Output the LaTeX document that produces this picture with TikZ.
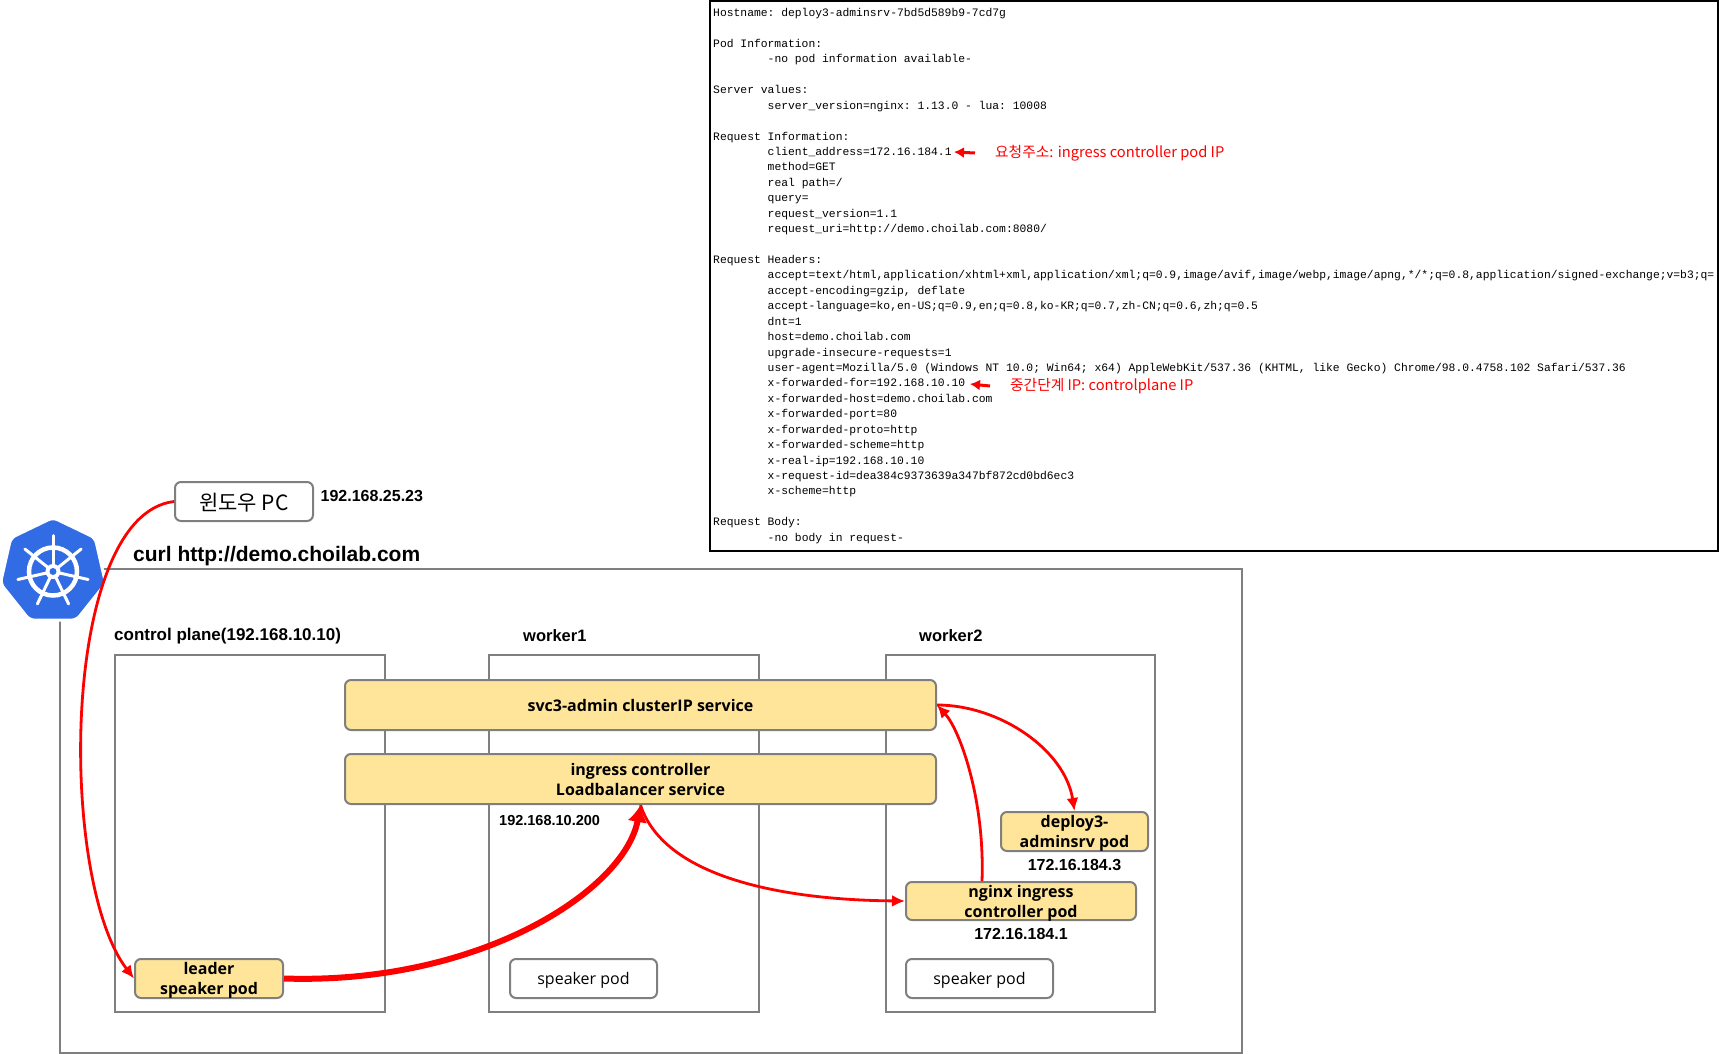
\documentclass[tikz,border=0pt]{standalone}
\usepackage{fontspec}
\setmainfont{Liberation Sans}
\setmonofont{Liberation Mono}
\newfontfamily\boxfont{Open Sans}
\newfontfamily\krfont{Noto Sans CJK KR}
\usepackage{xcolor}
\usetikzlibrary{shapes.geometric, arrows.meta, positioning, calc}

\definecolor{podyellow}{HTML}{FFE599}
\definecolor{linegray}{HTML}{7F7F7F}
\definecolor{k8sblue}{HTML}{326CE5}
\newcommand{\logindent}{\hspace*{54.5pt}}

\begin{document}
\begin{tikzpicture}[
    x=1pt,
    y=-1pt,
    zone/.style={
        rectangle,
        draw=linegray,
        line width=2pt,
        inner sep=0pt
    },
    pod/.style={
        rectangle,
        draw=linegray,
        fill=podyellow,
        line width=2pt,
        rounded corners=6pt,
        inner sep=0pt,
        align=center,
        text=black,
        font={\boxfont\bfseries\fontsize{16}{20}\selectfont}
    },
    smallpod/.style={
        pod,
        text depth=0pt
    },
    plainpod/.style={
        rectangle,
        draw=linegray,
        fill=white,
        line width=2pt,
        rounded corners=6pt,
        inner sep=0pt,
        align=center,
        minimum width=147pt,
        minimum height=39pt,
        text depth=0pt,
        font={\boxfont\fontsize{16}{20}\selectfont}
    },
    tag/.style={
        inner sep=0pt,
        font={\bfseries\fontsize{16}{20}\selectfont}
    },
    note/.style={
        inner sep=0pt,
        text=red,
        anchor=west,
        font={\krfont\fontsize{14.7}{18}\selectfont}
    },
    flow/.style={-{Latex[length=13pt,width=12pt]}, red, line width=2.8pt},
    noteflow/.style={-{Latex[length=10pt,width=11pt]}, red, line width=3pt}
]
    \useasboundingbox (0,0) rectangle (1719,1054);

    % cluster frame and the three machines
    \node [zone, minimum width=1182pt, minimum height=484pt] (cluster) at (650.75,811) {};
    \node [zone, minimum width=270pt, minimum height=357pt] (cplane) at (250,833.5) {};
    \node [zone, minimum width=270pt, minimum height=357pt] (worker1) at (624,833.5) {};
    \node [zone, minimum width=269pt, minimum height=357pt] (worker2) at (1020.5,833.5) {};

    \node [tag, font={\bfseries\fontsize{17}{20}\selectfont}, anchor=west] (cplanelabel) at (114,636) {control plane(192.168.10.10)};
    \node [tag, font={\bfseries\fontsize{16.5}{20}\selectfont}, anchor=west] (worker1label) at (523,636) {worker1};
    \node [tag, font={\bfseries\fontsize{16.5}{20}\selectfont}, anchor=west] (worker2label) at (919,636) {worker2};

    % Kubernetes logo over the frame corner
    \node [regular polygon, regular polygon sides=7, draw=white, fill=k8sblue, line width=3pt,
        rounded corners=5pt, minimum size=108pt, inner sep=0pt] (k8s) at (53,571.5) {};
    \draw [white, line width=4.5pt] (k8s.center) circle (24);
    \foreach \k in {0,...,6}
        \draw [white, line width=3pt, line cap=round] (k8s.center) -- ++({270+\k*360/7}:36);
    \node [circle, fill=white, minimum size=15pt, inner sep=0pt] (hubring) at (k8s.center) {};
    \node [circle, fill=k8sblue, minimum size=7pt, inner sep=0pt] (hub) at (k8s.center) {};

    % services and pods
    \node [pod, minimum width=591pt, minimum height=50pt] (svc) at (640.5,705) {svc3-admin clusterIP service};
    \node [pod, minimum width=591pt, minimum height=50pt] (ingress) at (640.5,779) {ingress controller\\Loadbalancer service};
    \node [smallpod, minimum width=147pt, minimum height=39pt] (deploy) at (1074.5,831.5) {deploy3-\\adminsrv pod};
    \node [smallpod, minimum width=230pt, minimum height=38pt] (nginx) at (1021,901) {nginx ingress\\controller pod};
    \node [smallpod, minimum width=148pt, minimum height=39pt] (leader) at (209,978.5) {leader\\speaker pod};
    \node [plainpod] (speaker1) at (583.5,978.5) {speaker pod};
    \node [plainpod] (speaker2) at (979.5,978.5) {speaker pod};

    \node [plainpod, minimum width=138pt, font={\krfont\fontsize{21}{24}\selectfont}] (winpc) at (244,501.5) {윈도우 PC};
    \node [tag, anchor=west] (winip) at (320.5,496.5) {192.168.25.23};
    \node [tag, anchor=west, font={\bfseries\fontsize{21}{24}\selectfont}] (curl) at (133,556.5) {curl http://demo.choilab.com};
    \node [tag, anchor=west, font={\bfseries\fontsize{14.5}{18}\selectfont}] (lbip) at (499,820.5) {192.168.10.200};
    \node [tag, below=7pt of deploy] (deployip) {172.16.184.3};
    \node [tag, below=7pt of nginx] (nginxip) {172.16.184.1};

    % request path
    \draw [flow] (winpc.west) .. controls (60,515) and (58,880) .. (leader.west);
    \draw [flow, line width=6pt, -{Latex[length=17pt,width=20pt]}] (leader.east) .. controls (480,985) and (625,890) .. (ingress.south);
    \draw [flow] (ingress.south) .. controls (665,880) and (790,900) .. (nginx.west);
    \draw [flow] ([xshift=-39pt]nginx.north) .. controls (985,800) and (960,730) .. (svc.east);
    \draw [flow] (svc.east) .. controls (1000,705) and (1065,750) .. (deploy.north);

    % captured response of the pod
    \node [rectangle, draw=black, line width=2pt, minimum width=1008pt, minimum height=550pt, inner sep=0pt] (response) at (1214,276) {};
    \node [anchor=north west, inner sep=0pt, align=left, font={\ttfamily\fontsize{11.35}{15.43}\selectfont}] (responsetext) at (713,8.2) {%
Hostname: deploy3-adminsrv-7bd5d589b9-7cd7g\\[15.43pt]
Pod Information:\\
\logindent -no pod information available-\\[15.43pt]
Server values:\\
\logindent server\_version=nginx: 1.13.0 - lua: 10008\\[15.43pt]
Request Information:\\
\logindent client\_address=172.16.184.1\\
\logindent method=GET\\
\logindent real path=/\\
\logindent query=\\
\logindent request\_version=1.1\\
\logindent request\_uri=http://demo.choilab.com:8080/\\[15.43pt]
Request Headers:\\
\logindent accept=text/html,application/xhtml+xml,application/xml;q=0.9,image/avif,image/webp,image/apng,*/*;q=0.8,application/signed-exchange;v=b3;q=\\
\logindent accept-encoding=gzip, deflate\\
\logindent accept-language=ko,en-US;q=0.9,en;q=0.8,ko-KR;q=0.7,zh-CN;q=0.6,zh;q=0.5\\
\logindent dnt=1\\
\logindent host=demo.choilab.com\\
\logindent upgrade-insecure-requests=1\\
\logindent user-agent=Mozilla/5.0 (Windows NT 10.0; Win64; x64) AppleWebKit/537.36 (KHTML, like Gecko) Chrome/98.0.4758.102 Safari/537.36\\
\logindent x-forwarded-for=192.168.10.10\\
\logindent x-forwarded-host=demo.choilab.com\\
\logindent x-forwarded-port=80\\
\logindent x-forwarded-proto=http\\
\logindent x-forwarded-scheme=http\\
\logindent x-real-ip=192.168.10.10\\
\logindent x-request-id=dea384c9373639a347bf872cd0bd6ec3\\
\logindent x-scheme=http\\[15.43pt]
Request Body:\\
\logindent -no body in request-};

    \node [note] (clientnote) at (995,153) {요청주소: ingress controller pod IP};
    \node [note] (proxynote) at (1010,386) {중간단계 IP: controlplane IP};
    \coordinate (clientip) at (954,152);
    \coordinate (proxyip) at (970,384);
    \draw [noteflow] (clientnote.west -| 975,152) -- (clientip);
    \draw [noteflow] (proxynote.west -| 990,384) -- (proxyip);

\end{tikzpicture}
\end{document}
